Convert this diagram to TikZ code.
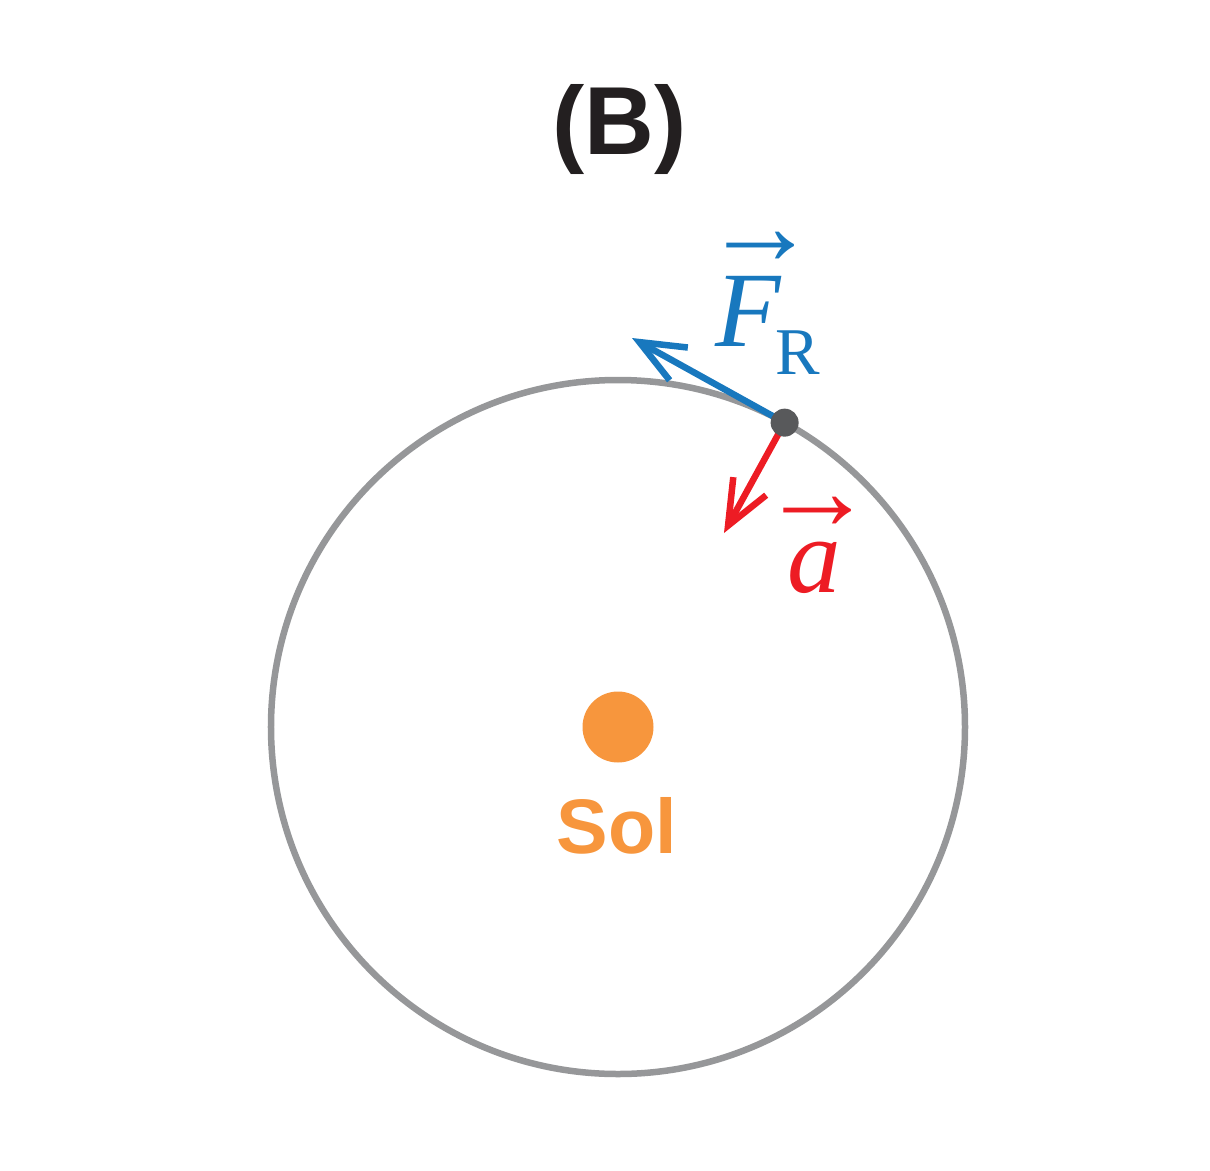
\documentclass[tikz,border=0pt]{standalone}
\usepackage{amsmath}
\usepackage{fontspec}
\setmainfont{Liberation Serif}
\newfontfamily\headfont{Liberation Sans}
\usetikzlibrary{arrows.meta}
\definecolor{titleblack}{HTML}{231F20}
\definecolor{orbitgray}{HTML}{969799}
\definecolor{planetgray}{HTML}{58595B}
\definecolor{sunorange}{HTML}{F7963D}
\definecolor{forceblue}{HTML}{1878BE}
\definecolor{accred}{HTML}{ED1C24}

\begin{document}
\begin{tikzpicture}[
        orbit/.style={draw=orbitgray, line width=0.13cm},
        force/.style={line width=0.13cm, -{Straight Barb[length=0.9cm, width=0.75cm]}},
        body/.style={circle, inner sep=0pt},
        vecsign/.style={inner sep=0pt, font=\fontsize{65}{65}\selectfont}
    ]
        \useasboundingbox (-12.36,-8.86) rectangle (11.84,14.54);

        \node[font=\headfont\bfseries\fontsize{55}{55}\selectfont, text=titleblack, anchor=base] (title) at (0.03,11.44) {(B)};

        \draw[orbit] (0,0) circle (6.94);
        \node[body, fill=sunorange, minimum size=1.42cm] (sun) at (0,0) {};
        \node[font=\headfont\bfseries\fontsize{44}{44}\selectfont, text=sunorange, anchor=base] (sollabel) at (-0.02,-2.52) {Sol};

        \coordinate (p) at (61.3:6.94);
        \coordinate (Ftip) at (0.28,7.78);
        \coordinate (atip) at (2.12,3.88);
        \draw[force, color=forceblue] (p) -- (Ftip);
        \draw[force, color=accred] (p) -- (atip);
        \node[body, fill=planetgray, minimum size=0.56cm] (planet) at (p) {};

        \node[text=forceblue, anchor=base west, inner sep=0pt] (Flabel) at (1.94,7.62)
            {\fontsize{61}{61}\selectfont\textit{F}\kern-0.12cm{\fontsize{38}{38}\selectfont\raisebox{-0.56cm}{R}}};
        \node[vecsign, text=forceblue] (Fvec) at (2.85,9.58) {→};
        \node[text=accred, anchor=base west, inner sep=0pt] (alabel) at (3.38,2.70)
            {\fontsize{61}{61}\selectfont\textit{a}};
        \node[vecsign, text=accred] (avec) at (4.0,4.28) {→};
\end{tikzpicture}
\end{document}
